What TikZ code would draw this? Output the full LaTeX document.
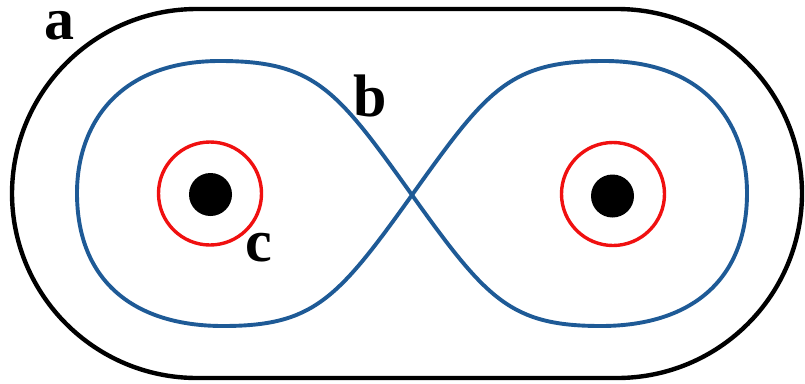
\documentclass[tikz,border=0pt]{standalone}
\usepackage{fontspec}
\setmainfont{Liberation Serif}
\definecolor{loopblue}{HTML}{1E5A96}
\definecolor{ringred}{HTML}{F01010}
\begin{document}
\begin{tikzpicture}[x=1pt,y=-1pt,
  outer/.style={draw=black,line width=4.4pt},
  loopline/.style={draw=loopblue,line width=3.9pt},
  ring/.style={draw=ringred,line width=3.4pt},
  dot/.style={fill=black},
  lab/.style={font=\fontsize{60}{64}\selectfont\bfseries,inner sep=0pt}]
\useasboundingbox (0,0) rectangle (805,383);
% outer stadium
\draw[outer,rounded corners=185pt] (12,9) rectangle (802,378);
% figure eight
\draw[loopline] (412,195)
  .. controls (337,90) and (315,61) .. (220,61)
  .. controls (115,61) and (77,128) .. (77,193)
  .. controls (77,282) and (135,326) .. (223,326)
  .. controls (313,326) and (337,300) .. (412,195)
  .. controls (487,90) and (509,61) .. (604,61)
  .. controls (709,61) and (747,128) .. (747,193)
  .. controls (747,282) and (689,326) .. (601,326)
  .. controls (511,326) and (487,300) .. (412,195) -- cycle;
% rings and dots
\draw[ring] (210,193.5) circle[radius=51.5];
\draw[ring] (613,194) circle[radius=51.5];
\fill[dot] (210.5,194.5) circle[radius=21.5];
\fill[dot] (612.5,196) circle[radius=21.5];
% labels
\node[lab] (la) at (59.5,26) {a};
\node[lab] (lb) at (370,96) {b};
\node[lab] (lc) at (258.5,247.5) {c};
\end{tikzpicture}
\end{document}
